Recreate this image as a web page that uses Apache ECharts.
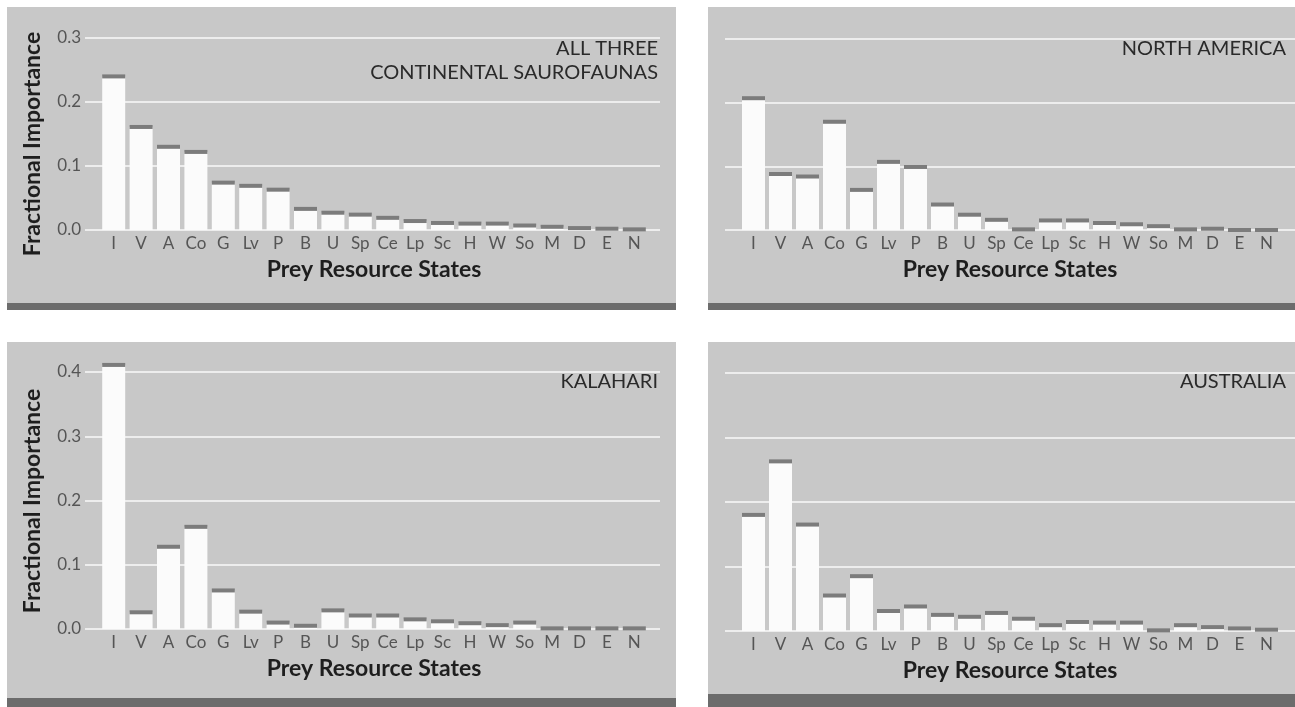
<!DOCTYPE html>
<html>
<head>
<meta charset="utf-8">
<script src="https://cdn.jsdelivr.net/npm/echarts@6/dist/echarts.min.js"></script>
<style>
html,body{margin:0;padding:0;background:#fff;}
#chart{width:1295px;height:707px;}
</style>
</head>
<body>
<div id="chart"></div>
<script>
const categories = ['I','V','A','Co','G','Lv','P','B','U','Sp','Ce','Lp','Sc','H','W','So','M','D','E','N'];
const allThree     = [0.240,0.161,0.130,0.122,0.074,0.069,0.063,0.033,0.027,0.024,0.019,0.014,0.011,0.010,0.010,0.007,0.005,0.003,0.002,0.001];
const northAmerica = [0.207,0.088,0.084,0.170,0.063,0.107,0.099,0.040,0.024,0.016,0.001,0.015,0.015,0.011,0.009,0.006,0.001,0.002,0.000,0.000];
const kalahari     = [0.411,0.026,0.128,0.159,0.060,0.027,0.010,0.005,0.029,0.021,0.021,0.015,0.012,0.009,0.006,0.010,0.001,0.001,0.001,0.001];
const australia    = [0.180,0.263,0.165,0.055,0.085,0.031,0.038,0.025,0.022,0.028,0.019,0.009,0.014,0.013,0.013,0.001,0.009,0.006,0.004,0.002];
const titles = [['ALL THREE','CONTINENTAL SAUROFAUNAS'],['NORTH AMERICA'],['KALAHARI'],['AUSTRALIA']];
const yMaxes = [0.3, 0.3, 0.4, 0.4];
const yInterval = 0.1;
const xTitle = 'Prey Resource States';
const yTitle = 'Fractional Importance';

const FONT = 'Lato';
const panels = [
  {data: allThree,     bg:[7,7,669,296],   band:[7,303,669,7],   gl:85,  gw:575, bl:100, bw:548, top:38,  h:192, yLabels:true,  tx:658, ty:39, yty:144},
  {data: northAmerica, bg:[708,7,587,296], band:[708,303,587,7], gl:725, gw:570, bl:740, bw:540, top:39,  h:191, yLabels:false, tx:1286, ty:39},
  {data: kalahari,     bg:[7,342,669,356], band:[7,698,669,9],   gl:85,  gw:575, bl:100, bw:548, top:372, h:257, yLabels:true,  tx:658, ty:372, yty:501},
  {data: australia,    bg:[708,342,587,352],band:[708,694,587,13],gl:725, gw:570, bl:740, bw:540, top:373, h:258, yLabels:false, tx:1286, ty:372}
];

const grids = [], xAxes = [], yAxes = [], series = [], graphics = [];
panels.forEach((p, i) => {
  graphics.push({type:'rect', z:-10, shape:{x:p.bg[0], y:p.bg[1], width:p.bg[2], height:p.bg[3]}, style:{fill:'#c8c8c8'}});
  graphics.push({type:'rect', z:-9, shape:{x:p.band[0], y:p.band[1], width:p.band[2], height:p.band[3]}, style:{fill:'#6c6c6c'}});
  titles[i].forEach((t, k) => {
    graphics.push({type:'text', z:5, x:p.tx, y:p.ty + k*24, style:{text:t, fill:'#2a2a2a', font:'20px ' + FONT, textAlign:'right', textVerticalAlign:'top'}});
  });
  if (p.yLabels) {
    graphics.push({type:'text', z:5, x:33, y:p.yty, rotation:Math.PI/2,
      style:{text:yTitle, fill:'#1e1e1e', font:'bold 23px ' + FONT, textAlign:'center', textVerticalAlign:'middle'}});
  }
  grids.push({left:p.gl, top:p.top, width:p.gw, height:p.h});
  grids.push({left:p.bl, top:p.top, width:p.bw, height:p.h});
  const gA = 2*i, gB = 2*i+1;
  xAxes.push({gridIndex:gA, type:'category', data:categories, show:false});
  xAxes.push({gridIndex:gB, type:'category', data:categories,
    axisLine:{show:false}, axisTick:{show:false},
    axisLabel:{interval:0, margin:5, color:'#555', fontFamily:FONT, fontSize:17},
    name:xTitle, nameLocation:'middle', nameGap:28,
    nameTextStyle:{fontFamily:FONT, fontWeight:'bold', fontSize:23, color:'#1e1e1e'}});
  yAxes.push({gridIndex:gA, type:'value', min:0, max:yMaxes[i], interval:yInterval,
    axisLine:{show:false}, axisTick:{show:false},
    axisLabel:{show:p.yLabels, margin:4, color:'#555', fontFamily:FONT, fontSize:17, formatter:v => v.toFixed(1)},
    splitLine:{show:true, lineStyle:{color:'#ededed', width:2}}});
  yAxes.push({gridIndex:gB, type:'value', min:0, max:yMaxes[i], show:false, splitLine:{show:false}});
  series.push({type:'bar', xAxisIndex:gB, yAxisIndex:gB, data:p.data, barWidth:23, clip:false,
    itemStyle:{color:'#fbfbfb'}, silent:true, z:2});
  series.push({type:'scatter', xAxisIndex:gB, yAxisIndex:gB, data:p.data, symbol:'rect', symbolSize:[23,4], clip:false,
    itemStyle:{color:'#7c7c7c', opacity:1}, silent:true, z:3});
});

const chart = echarts.init(document.getElementById('chart'), null, {renderer:'canvas'});
chart.setOption({
  animation:false,
  backgroundColor:'#ffffff',
  graphic:{elements:graphics},
  grid:grids, xAxis:xAxes, yAxis:yAxes, series:series
});
</script>
</body>
</html>
